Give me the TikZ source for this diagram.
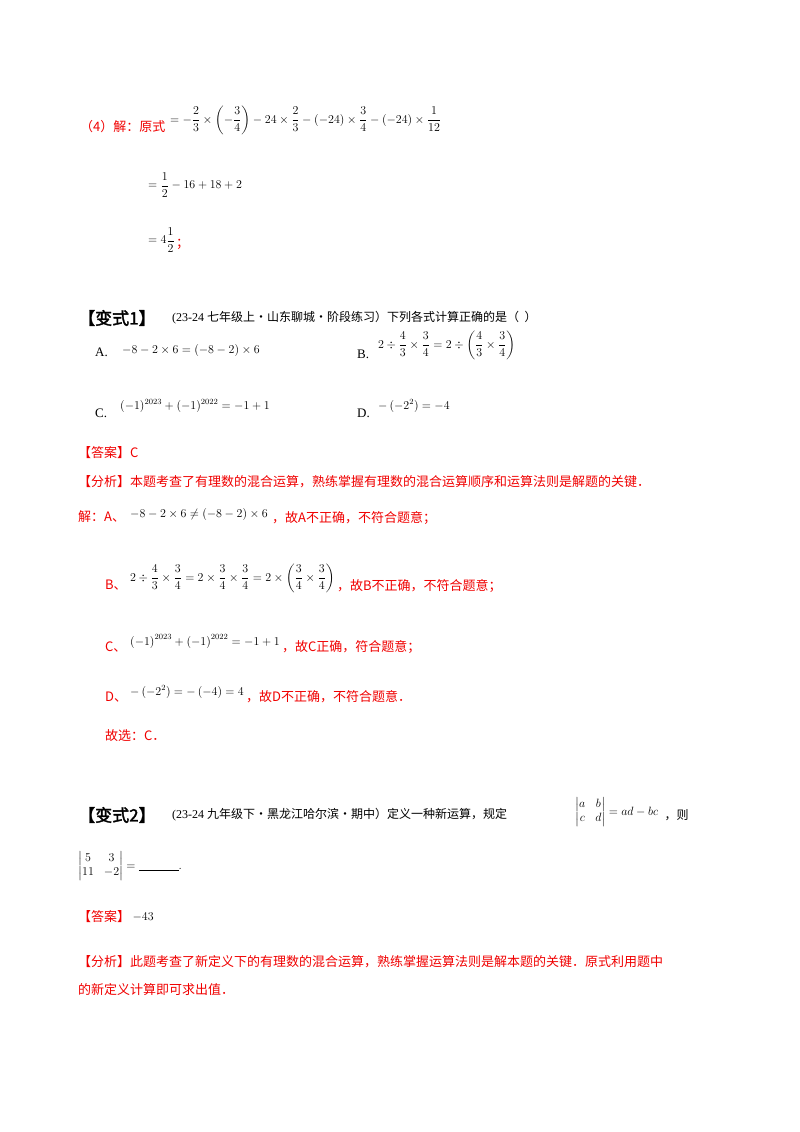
\documentclass[tikz,border=0pt]{standalone}
\usepackage{fontspec}
\usepackage{amsmath}
\setmainfont{Liberation Serif}
\newfontfamily\cjk{Noto Sans CJK SC}
\newfontfamily\cjkb[FakeBold=2]{Noto Sans CJK SC}
\definecolor{rd}{RGB}{240,0,0}
\begin{document}
\begin{tikzpicture}[x=1pt,y=-1pt,
  t/.style={anchor=west,inner sep=0pt,font=\fontsize{13}{15}\selectfont},
  m/.style={anchor=west,inner sep=0pt,font=\fontsize{12}{14}\selectfont},
  r/.style={t,text=rd},
  h/.style={anchor=west,inner sep=0pt,font=\fontsize{17}{19}\selectfont\cjkb}]
\useasboundingbox (0,0) rectangle (800,1132);
\node[r] (l4) at (80,127) {\cjk（4）解：原式};
\node[m] (f1) at (170,120) {$=-\dfrac23\times\left(-\dfrac34\right)-24\times\dfrac23-\left(-24\right)\times\dfrac34-\left(-24\right)\times\dfrac1{12}$};
\node[m] (f2) at (148,185) {$=\dfrac12-16+18+2$};
\node[m] (f3) at (148,240) {$=4\dfrac12$};
\node[r,anchor=west] (f3s) at ([xshift=1pt,yshift=-4pt]f3.east) {\cjk；};
\node[h] (v1) at (78,318) {【变式1】};
\node[t,font=\fontsize{12}{14}\selectfont] (v1t) at (172,318) {(23-24 {\cjk 七年级上·山东聊城·阶段练习）下列各式计算正确的是（ \ ）}};
\node[t] (A) at (95,352) {A.};
\node[m] (Af) at (122,350) {$-8-2\times6=\left(-8-2\right)\times6$};
\node[t] (B) at (357,354) {B.};
\node[m] (Bf) at (378,345) {$2\div\dfrac43\times\dfrac34=2\div\left(\dfrac43\times\dfrac34\right)$};
\node[t] (C) at (95,413) {C.};
\node[m] (Cf) at (120,406) {$\left(-1\right)^{2023}+\left(-1\right)^{2022}=-1+1$};
\node[t] (D) at (357,413) {D.};
\node[m] (Df) at (378,406) {$-\left(-2^2\right)=-4$};
\node[r] (ans1) at (78,453) {\cjk【答案】C};
\node[r] (an1) at (78,482) {\cjk【分析】本题考查了有理数的混合运算，熟练掌握有理数的混合运算顺序和运算法则是解题的关键．};
\node[r] (jA) at (78,517) {\cjk 解：A、};
\node[m] (jAf) at (130,514) {$-8-2\times6\neq\left(-8-2\right)\times6$};
\node[r] (jAt) at (272,518) {\cjk ，故A不正确，不符合题意；};
\node[r] (jB) at (105,585) {\cjk B、};
\node[m] (jBf) at (130,578) {$2\div\dfrac43\times\dfrac34=2\times\dfrac34\times\dfrac34=2\times\left(\dfrac34\times\dfrac34\right)$};
\node[r] (jBt) at ([xshift=2pt,yshift=-8pt]jBf.east) {\cjk ，故B不正确，不符合题意；};
\node[r] (jC) at (105,647) {\cjk C、};
\node[m] (jCf) at (130,641) {$\left(-1\right)^{2023}+\left(-1\right)^{2022}=-1+1$};
\node[r] (jCt) at ([xshift=2pt,yshift=-6pt]jCf.east) {\cjk ，故C正确，符合题意；};
\node[r] (jD) at (105,697) {\cjk D、};
\node[m] (jDf) at (130,692) {$-\left(-2^2\right)=-\left(-4\right)=4$};
\node[r] (jDt) at ([xshift=2pt,yshift=-5pt]jDf.east) {\cjk ，故D不正确，不符合题意．};
\node[r] (gx) at (105,736) {\cjk 故选：C．};
\node[h] (v2) at (78,815) {【变式2】};
\node[t,font=\fontsize{12}{14}\selectfont] (v2t) at (172,815) {(23-24 {\cjk 九年级下·黑龙江哈尔滨·期中）定义一种新运算，规定}};
\node[m] (det) at (575,812) {$\begin{vmatrix} a & b\\ c & d\end{vmatrix}=ad-bc$};
\node[t,font=\fontsize{12}{14}\selectfont] (ze) at ([xshift=6pt,yshift=-3pt]det.east) {\cjk ，则};
\node[m] (det2) at (78,866) {$\begin{vmatrix} 5 & 3\\ 11 & -2\end{vmatrix}=\underline{\hspace{3.3em}}.$};
\node[r] (ans2) at (78,917) {\cjk【答案】};
\node[m] (ans2v) at ([xshift=2pt]ans2.east) {$-43$};
\node[r] (an2) at (78,962) {\cjk【分析】此题考查了新定义下的有理数的混合运算，熟练掌握运算法则是解本题的关键．原式利用题中};
\node[r] (an2b) at (78,990) {\cjk 的新定义计算即可求出值．};
\end{tikzpicture}
\end{document}
